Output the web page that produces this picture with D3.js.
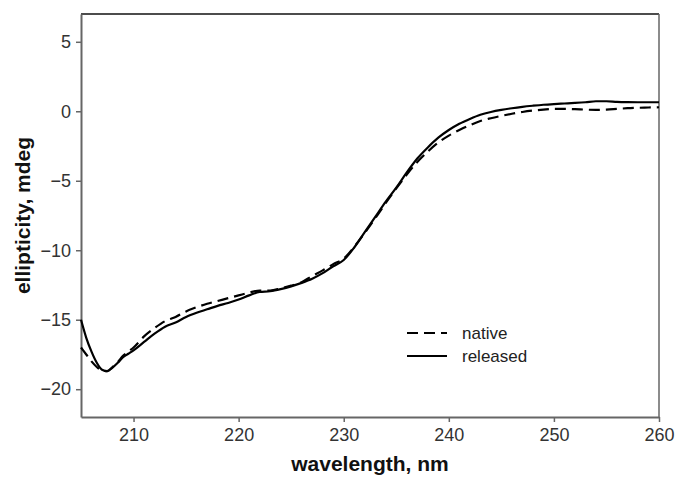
<!DOCTYPE html>
<html>
<head>
<meta charset="utf-8">
<script src="https://cdn.jsdelivr.net/npm/d3@7"></script>
<style>
  body { margin: 0; background: #fff; }
  svg { display: block; font-family: "Liberation Sans", Arial, sans-serif; }
</style>
</head>
<body>
<div id="chart"></div>
<script>
// wavelength grid (nm)
const wavelengths = [205, 205.5, 206, 206.5, 207, 207.5, 208, 208.5, 209, 209.5,
  210, 211, 212, 213, 214, 215, 216, 217, 218, 219, 220, 221, 222, 223, 224, 225,
  226, 227, 228, 229, 230, 231, 232, 233, 234, 235, 236, 237, 238, 239, 240, 241,
  242, 243, 244, 245, 246, 247, 248, 249, 250, 251, 252, 253, 254, 255, 256, 257,
  258, 259, 260];

// ellipticity (mdeg)
const nativeValues = [-17.0, -17.5, -18.0, -18.4, -18.65, -18.7, -18.4, -18.05, -17.6, -17.3,
  -17.0, -16.2, -15.6, -15.1, -14.8, -14.4, -14.1, -13.85, -13.65, -13.45, -13.25, -13.05,
  -12.9, -12.9, -12.75, -12.55, -12.3, -11.85, -11.45, -11.0, -10.6, -9.75, -8.75, -7.7,
  -6.6, -5.55, -4.55, -3.65, -2.9, -2.25, -1.75, -1.35, -1.0, -0.7, -0.5, -0.33, -0.18,
  -0.05, 0.05, 0.12, 0.17, 0.17, 0.15, 0.12, 0.1, 0.12, 0.17, 0.22, 0.25, 0.27, 0.29];

const releasedValues = [-15.0, -16.3, -17.3, -18.1, -18.6, -18.7, -18.45, -18.1, -17.7, -17.45,
  -17.2, -16.6, -16.0, -15.5, -15.2, -14.8, -14.5, -14.25, -14.0, -13.8, -13.55, -13.25,
  -13.0, -12.95, -12.8, -12.6, -12.35, -12.05, -11.65, -11.15, -10.7, -9.8, -8.7, -7.6,
  -6.5, -5.5, -4.4, -3.4, -2.6, -1.9, -1.35, -0.9, -0.55, -0.25, -0.05, 0.1, 0.22, 0.32,
  0.4, 0.47, 0.52, 0.56, 0.6, 0.65, 0.72, 0.72, 0.68, 0.66, 0.65, 0.65, 0.65];

const xTicks = [210, 220, 230, 240, 250, 260];
const yTicks = [5, 0, -5, -10, -15, -20];
const seriesNames = ['native', 'released'];

const W = 678, H = 479;
const margin = { top: 14, right: 19, bottom: 62, left: 81 };
const width = W - margin.left - margin.right;
const height = H - margin.top - margin.bottom;

const svg = d3.select('#chart').append('svg')
  .attr('width', W)
  .attr('height', H);

const g = svg.append('g')
  .attr('transform', `translate(${margin.left},${margin.top})`);

const x = d3.scaleLinear().domain([205, 260]).range([0, width]);
const y = d3.scaleLinear().domain([-22, 7]).range([height, 0]);

// frame: top and right
g.append('line')
  .attr('x1', 0).attr('x2', width).attr('y1', 0).attr('y2', 0)
  .attr('stroke', '#111').attr('stroke-width', 1.5);
g.append('line')
  .attr('x1', width).attr('x2', width).attr('y1', 0).attr('y2', height)
  .attr('stroke', '#666').attr('stroke-width', 1.5);

// axes
const xAxis = g.append('g')
  .attr('transform', `translate(0,${height})`)
  .call(d3.axisBottom(x).tickValues(xTicks).tickSize(5).tickPadding(6).tickSizeOuter(0));
const yAxis = g.append('g')
  .call(d3.axisLeft(y).tickValues(yTicks).tickSize(5).tickPadding(5).tickSizeOuter(0));

[xAxis, yAxis].forEach(a => {
  a.select('.domain').attr('stroke', '#666').attr('stroke-width', 2);
  a.selectAll('.tick line').attr('stroke', '#666').attr('stroke-width', 1.5);
  a.selectAll('.tick text')
    .attr('fill', '#333')
    .style('font-size', '18px')
    .style('font-family', '"Liberation Sans", Arial, sans-serif');
});

// curves
const line = d3.line()
  .x(d => x(d[0]))
  .y(d => y(d[1]))
  .curve(d3.curveMonotoneX);

g.append('path')
  .datum(wavelengths.map((w, i) => [w, nativeValues[i]]))
  .attr('fill', 'none')
  .attr('stroke', '#000')
  .attr('stroke-width', 2.2)
  .attr('stroke-dasharray', '11,6')
  .attr('d', line);

g.append('path')
  .datum(wavelengths.map((w, i) => [w, releasedValues[i]]))
  .attr('fill', 'none')
  .attr('stroke', '#000')
  .attr('stroke-width', 2.2)
  .attr('d', line);

// legend
const legend = svg.append('g').attr('transform', 'translate(407,333)');
seriesNames.forEach((name, i) => {
  const row = legend.append('g').attr('transform', `translate(0,${i * 23})`);
  row.append('line')
    .attr('x1', 0).attr('x2', 40).attr('y1', 0).attr('y2', 0)
    .attr('stroke', '#000').attr('stroke-width', 2.2)
    .attr('stroke-dasharray', i === 0 ? '11,6' : null);
  row.append('text')
    .attr('x', 55).attr('y', 6)
    .attr('fill', '#222')
    .style('font-size', '17px')
    .text(name);
});

// axis titles
svg.append('text')
  .attr('x', margin.left + width / 2)
  .attr('y', 471)
  .attr('text-anchor', 'middle')
  .attr('fill', '#111')
  .style('font-size', '21px')
  .style('font-weight', 'bold')
  .text('wavelength, nm');

svg.append('text')
  .attr('transform', `translate(30,${margin.top + height / 2}) rotate(-90)`)
  .attr('text-anchor', 'middle')
  .attr('fill', '#111')
  .style('font-size', '21px')
  .style('font-weight', 'bold')
  .text('ellipticity, mdeg');
</script>
</body>
</html>
